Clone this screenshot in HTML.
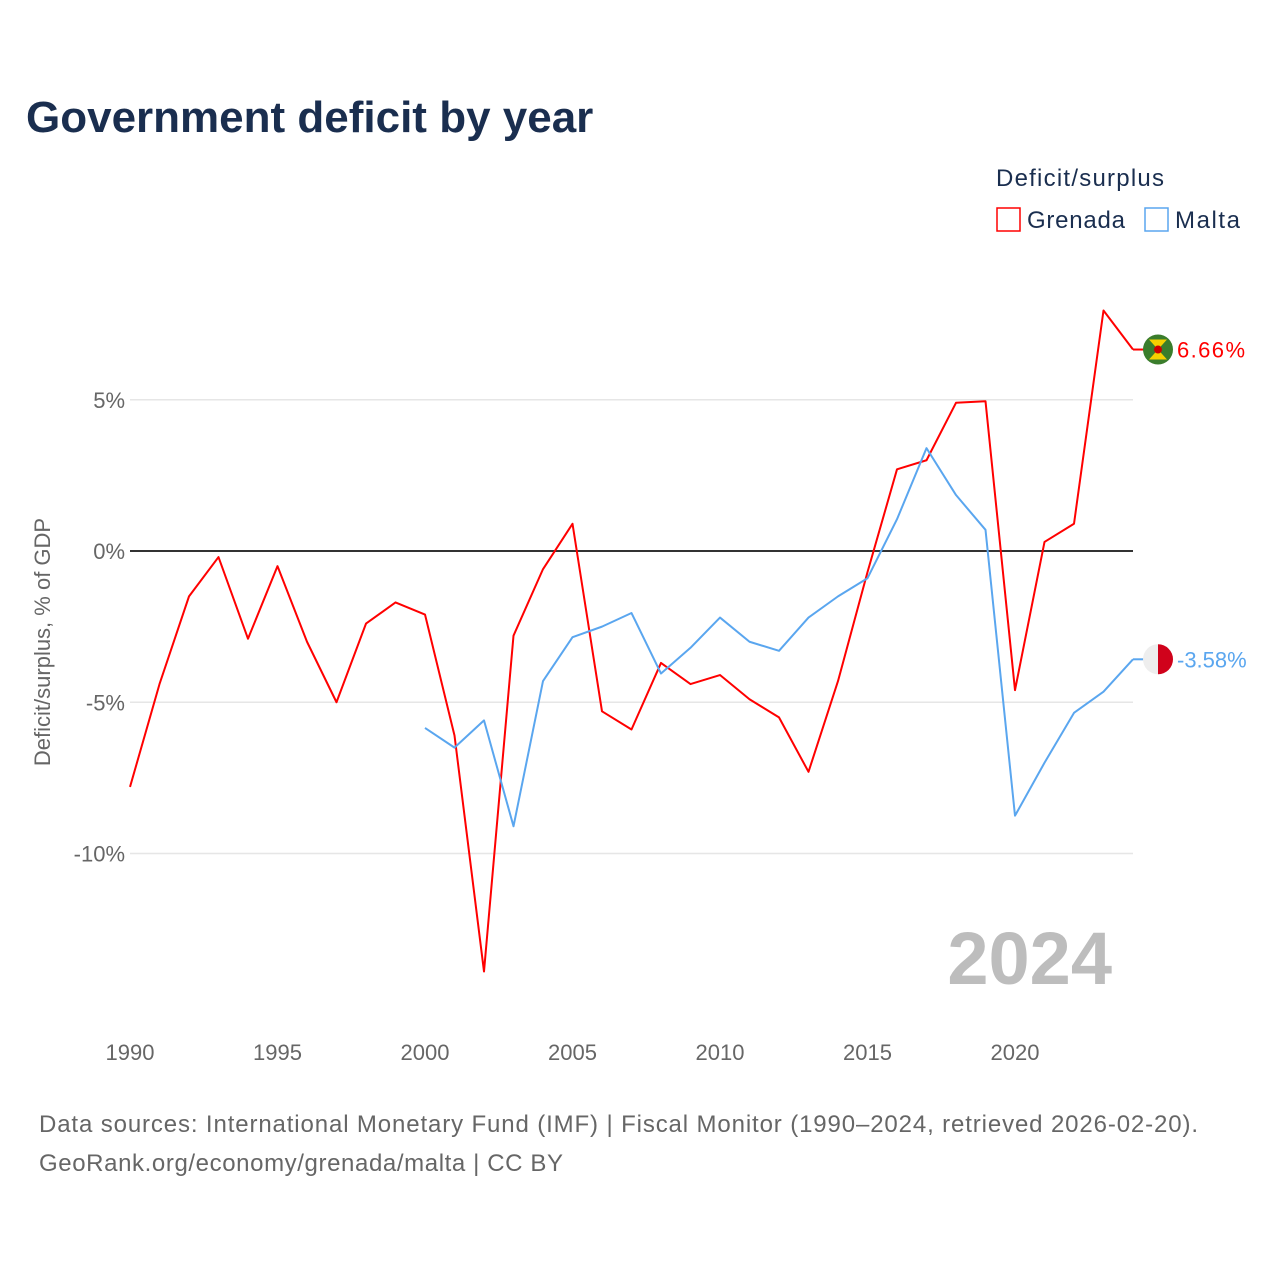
<!DOCTYPE html>
<html><head><meta charset="utf-8">
<style>
body{margin:0;background:#fff;font-family:"Liberation Sans",sans-serif;}
svg text{font-family:"Liberation Sans",sans-serif;}
</style></head>
<body>
<svg id="chart" width="1280" height="1280" viewBox="0 0 1280 1280">
<text x="26" y="132" font-size="44" font-weight="bold" fill="#1a2e4f">Government deficit by year</text>
<text x="996" y="186" font-size="24" fill="#1a2e4f" textLength="168">Deficit/surplus</text>
<g><rect x="997" y="208" width="23" height="23" fill="none" stroke="#f00" stroke-width="1.5"/><text x="1027" y="228" font-size="24" fill="#1a2e4f" textLength="98">Grenada</text></g>
<g><rect x="1145" y="208" width="23" height="23" fill="none" stroke="#5aa6ef" stroke-width="1.5"/><text x="1175" y="228" font-size="24" fill="#1a2e4f" textLength="65">Malta</text></g>
<text transform="translate(50,642) rotate(-90)" text-anchor="middle" font-size="22" fill="#666">Deficit/surplus, % of GDP</text>
<g id="grid"></g><g id="ticks"></g>
<text x="1112" y="984" text-anchor="end" font-size="74" font-weight="bold" fill="#bdbdbd">2024</text>
<g id="series"></g>
<text x="39" y="1132" font-size="24" fill="#666" textLength="1159">Data sources: International Monetary Fund (IMF) | Fiscal Monitor (1990–2024, retrieved 2026-02-20).</text>
<text x="39" y="1171" font-size="24" fill="#666" textLength="524">GeoRank.org/economy/grenada/malta | CC BY</text>
</svg>
<script>
const years = Array.from({length:35},(_, i)=>1990+i);
const grenada = [-7.8,-4.4,-1.5,-0.2,-2.9,-0.5,-3.0,-5.0,-2.4,-1.7,-2.1,-6.1,-13.9,-2.8,-0.6,0.9,-5.3,-5.9,-3.7,-4.4,-4.1,-4.9,-5.5,-7.3,-4.3,-0.7,2.7,3.0,4.9,4.95,-4.6,0.3,0.9,7.95,6.66];
const maltaYears = Array.from({length:25},(_, i)=>2000+i);
const malta = [-5.85,-6.5,-5.6,-9.1,-4.3,-2.85,-2.5,-2.05,-4.05,-3.2,-2.2,-3.0,-3.3,-2.2,-1.5,-0.9,1.05,3.4,1.85,0.7,-8.75,-7.0,-5.35,-4.65,-3.58];
const yTicks = [5,0,-5,-10];
const yTickLabels = ["5%","0%","-5%","-10%"];
const xTicks = [1990,1995,2000,2005,2010,2015,2020];
const NS="http://www.w3.org/2000/svg";
const X = y => 130 + (y-1990)*(1133-130)/34;
const Y = v => 551 - v*30.25;
function mk(tag, attrs, parent){const e=document.createElementNS(NS,tag);for(const k in attrs)e.setAttribute(k,attrs[k]);parent.appendChild(e);return e;}
const grid=document.getElementById('grid'), ticks=document.getElementById('ticks'), series=document.getElementById('series');
yTicks.forEach((t,i)=>{
  const l=mk('line',{x1:130,x2:1133,y1:Y(t),y2:Y(t),stroke:t===0?'#333':'#e6e6e6','stroke-width':t===0?2:1.5},grid);
  
  
  const tx=mk('text',{x:125,y:Y(t)+8,'text-anchor':'end','font-size':22,fill:'#666'},ticks);
  tx.textContent=yTickLabels[i];
  
  
});
xTicks.forEach(t=>{
  const tx=mk('text',{x:X(t),y:1060,'text-anchor':'middle','font-size':22,fill:'#666'},ticks);
  tx.textContent=t;
  
  
});
function line(xs,vs,color,name){
  const p=mk('polyline',{points:xs.map((y,i)=>X(y)+','+Y(vs[i])).join(' '),fill:'none',stroke:color,'stroke-width':2,'stroke-linejoin':'round'},series);
  
  
}
line(years,grenada,'#f00','grenada-line');
line(maltaYears,malta,'#5aa6ef','malta-line');
const gl=grenada[grenada.length-1], ml=malta[malta.length-1];
const g1=mk('g',{},series);


mk('line',{x1:1133,x2:1145,y1:Y(gl),y2:Y(gl),stroke:'#f00','stroke-width':2},g1);
mk('circle',{cx:1158,cy:Y(gl),r:15,fill:'#3a7d2c'},g1);
mk('polygon',{points:`1149,${Y(gl)-10} 1167,${Y(gl)-10} 1158,${Y(gl)} 1167,${Y(gl)+10} 1149,${Y(gl)+10} 1158,${Y(gl)}`,fill:'#f5d000'},g1);
mk('circle',{cx:1158,cy:Y(gl),r:4,fill:'#c00'},g1);
const t1=mk('text',{x:1177,y:Y(gl)+8,'font-size':22,fill:'#f00',textLength:68},g1); t1.textContent=gl.toFixed(2)+'%';
const g2=mk('g',{},series);


mk('line',{x1:1133,x2:1145,y1:Y(ml),y2:Y(ml),stroke:'#5aa6ef','stroke-width':2},g2);
mk('circle',{cx:1158,cy:Y(ml),r:15,fill:'#eee'},g2);
mk('path',{d:`M1158 ${Y(ml)-15} A15 15 0 0 1 1158 ${Y(ml)+15} Z`,fill:'#d0021b'},g2);
const t2=mk('text',{x:1177,y:Y(ml)+8,'font-size':22,fill:'#5aa6ef'},g2); t2.textContent=ml.toFixed(2)+'%';
</script>
</body></html>
